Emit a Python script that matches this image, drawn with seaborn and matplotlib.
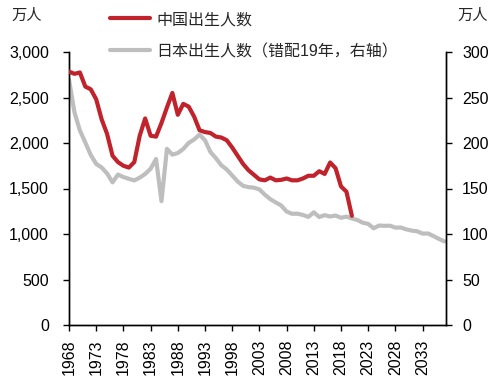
import numpy as np
import pandas as pd
import matplotlib
matplotlib.use("Agg")
import matplotlib.pyplot as plt
import seaborn as sns
from matplotlib.ticker import FuncFormatter, MultipleLocator

# China births (万人), 1968-2020
cn_years = list(range(1968, 2021))
cn_births = [2785, 2760, 2775, 2620, 2590, 2480, 2260, 2100, 1860, 1790,
             1750, 1730, 1790, 2080, 2270, 2080, 2070, 2220, 2390, 2550,
             2310, 2430, 2400, 2290, 2140, 2120, 2110, 2070, 2060, 2030,
             1950, 1860, 1770, 1700, 1650, 1600, 1590, 1620, 1590, 1595,
             1610, 1590, 1590, 1610, 1640, 1640, 1690, 1660, 1786, 1723,
             1523, 1465, 1200]

# Japan births (万人), 1949-2018, plotted shifted by 19 years
jp_years = list(range(1949, 2019))
jp_births = [269.7, 233.8, 213.8, 200.5, 186.8, 177.0, 173.1, 166.5, 156.7, 165.3,
             162.6, 160.6, 158.9, 161.9, 166.0, 171.7, 182.4, 136.1, 193.6, 187.2,
             189.0, 193.4, 200.1, 203.9, 209.2, 203.0, 190.1, 183.3, 175.5, 170.9,
             164.3, 157.7, 152.9, 151.5, 150.9, 149.0, 143.2, 138.3, 134.7, 131.4,
             124.7, 122.2, 122.3, 120.9, 118.8, 123.8, 118.7, 120.7, 119.2, 120.3,
             117.8, 119.1, 117.1, 115.4, 112.4, 111.1, 106.3, 109.3, 109.0, 109.1,
             107.0, 107.1, 105.1, 103.7, 103.0, 100.4, 100.6, 97.7, 94.6, 91.8]
shift = 19

x_ticks = list(range(1968, 2034, 5))
label_cn = "中国出生人数"
label_jp = "日本出生人数（错配19年，右轴）"
unit = "万人"

sns.set_style("white")
plt.rcParams['font.family'] = ['Liberation Sans', 'Noto Sans CJK SC', 'DejaVu Sans']
plt.rcParams['font.size'] = 11.5

df_cn = pd.DataFrame({"year": cn_years, "births": cn_births})
df_jp = pd.DataFrame({"year": [y + shift for y in jp_years], "births": jp_births})

fig = plt.figure(figsize=(5.03, 3.79), dpi=100)
ax = fig.add_axes([69/503, 1-325/379, (446-69)/503, (325-52)/379])
ax2 = ax.twinx()

sns.lineplot(data=df_cn, x="year", y="births", ax=ax, color="#C0232B",
             linewidth=3.0, label=label_cn, legend=False, zorder=3)
sns.lineplot(data=df_jp, x="year", y="births", ax=ax2, color="#BEBEBE",
             linewidth=3.0, label=label_jp, legend=False, zorder=2)
ax.set_zorder(ax2.get_zorder() + 1)
ax.patch.set_visible(False)

ax.set_xlim(1968, 2037.3)
ax.set_ylim(0, 3000)
ax2.set_ylim(0, 300)
ax.yaxis.set_major_locator(MultipleLocator(500))
ax2.yaxis.set_major_locator(MultipleLocator(50))
ax.yaxis.set_major_formatter(FuncFormatter(lambda v, p: f"{int(v):,}"))
ax.set_xticks(x_ticks)
ax.set_xticklabels([str(t) for t in x_ticks], rotation=90)
ax.set_xlabel("")
ax.set_ylabel("")
ax2.set_ylabel("")

for a in (ax, ax2):
    a.spines['top'].set_visible(False)
    for s in ('left', 'right', 'bottom'):
        a.spines[s].set_color('black')
        a.spines[s].set_linewidth(1.0)
    a.tick_params(direction='out', length=4.5, width=1, colors='black', labelsize=11.5)
ax.tick_params(axis='y', left=True, pad=10)
ax.tick_params(axis='x', bottom=True, pad=6)
ax2.tick_params(axis='y', right=True, pad=7)

fig.text(27/503, 1-16/379, unit, ha='center', va='center', fontsize=11)
fig.text(473/503, 1-16/379, unit, ha='center', va='center', fontsize=11)

h1, l1 = ax.get_legend_handles_labels()
h2, l2 = ax2.get_legend_handles_labels()
fig.legend(h1 + h2, l1 + l2, loc='upper left', bbox_to_anchor=(102/503, 1-4/379),
           frameon=False, borderpad=0, handlelength=2.5, handletextpad=0.4,
           labelspacing=1.05, fontsize=11.5)

fig.savefig("out.png", dpi=100)
